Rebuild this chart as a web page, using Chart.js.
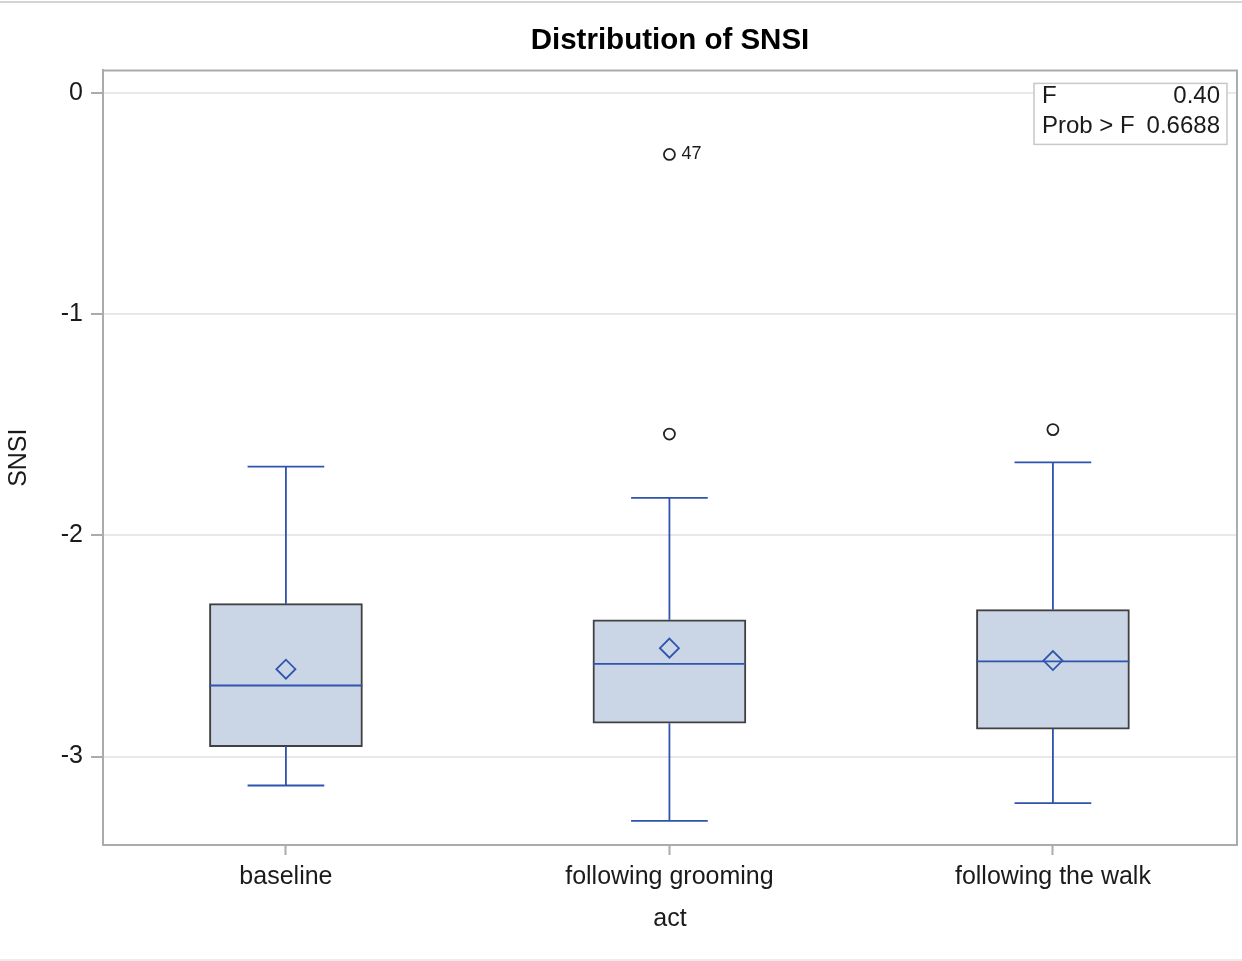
<!DOCTYPE html>
<html><head><meta charset="utf-8">
<script src="https://cdn.jsdelivr.net/npm/chart.js@4.4.1/dist/chart.umd.min.js"></script>
<style>html,body{margin:0;padding:0;background:#fff;}#wrap{width:1242px;height:961px;}</style>
</head><body><div id="wrap"><canvas id="c" width="1242" height="961"></canvas></div>
<script>
const categories = ['baseline', 'following grooming', 'following the walk'];
const whiskerLow = [-3.131, -3.291, -3.211];
const q1 = [-2.955, -2.849, -2.876];
const median = [-2.679, -2.581, -2.570];
const q3 = [-2.309, -2.382, -2.336];
const whiskerHigh = [-1.689, -1.831, -1.670];
const means = [-2.605, -2.510, -2.566];
const outlierGroup = [1, 1, 2];
const outlierValue = [-0.278, -1.542, -1.522];
const outlierLabel = ['47', '', ''];
const yTicks = [0, -1, -2, -3];
const statLabels = ['F', 'Prob > F'];
const statValues = ['0.40', '0.6688'];

const FONT = "'Liberation Sans', Arial, sans-serif";
const BLUE = '#2f54ad';
const BOX_HALF = 0.1995, CAP_HALF = 0.1;

const whiskerData = [];
categories.forEach((c, i) => {
  whiskerData.push(
    {x: i, y: q3[i]}, {x: i, y: whiskerHigh[i]}, {x: i, y: null},
    {x: i - CAP_HALF, y: whiskerHigh[i]}, {x: i + CAP_HALF, y: whiskerHigh[i]}, {x: i, y: null},
    {x: i, y: q1[i]}, {x: i, y: whiskerLow[i]}, {x: i, y: null},
    {x: i - CAP_HALF, y: whiskerLow[i]}, {x: i + CAP_HALF, y: whiskerLow[i]}, {x: i, y: null}
  );
});
const medianData = [];
categories.forEach((c, i) => {
  medianData.push({x: i - BOX_HALF, y: median[i]}, {x: i + BOX_HALF, y: median[i]}, {x: i, y: null});
});

const framePlugin = {
  id: 'frame',
  beforeDraw(chart) {
    const ctx = chart.ctx;
    ctx.save();
    ctx.fillStyle = '#d4d4d4';
    ctx.fillRect(0, 1, chart.width, 2);
    ctx.fillStyle = '#ececec';
    ctx.fillRect(0, chart.height - 2, chart.width, 2);
    ctx.restore();
  },
  afterDraw(chart) {
    const ctx = chart.ctx, a = chart.chartArea;
    ctx.save();
    ctx.strokeStyle = '#a9abae';
    ctx.lineWidth = 2;
    ctx.beginPath();
    ctx.moveTo(a.left, a.top); ctx.lineTo(a.right, a.top); ctx.lineTo(a.right, a.bottom);
    ctx.stroke();
    // outlier labels
    const meta = chart.getDatasetMeta(4);
    ctx.fillStyle = '#1a1a1a';
    ctx.font = '18px ' + FONT;
    ctx.textBaseline = 'middle';
    ctx.textAlign = 'left';
    meta.data.forEach((pt, k) => {
      if (outlierLabel[k]) ctx.fillText(outlierLabel[k], pt.x + 12, pt.y);
    });
    // stats inset
    const bw = 193, bh = 61;
    const bx = a.right - 10 - bw, by = a.top + 13;
    ctx.fillStyle = '#ffffff';
    ctx.fillRect(bx, by, bw, bh);
    ctx.strokeStyle = '#c8c8c8';
    ctx.lineWidth = 1.5;
    ctx.strokeRect(bx, by, bw, bh);
    ctx.fillStyle = '#1a1a1a';
    ctx.font = '24px ' + FONT;
    statLabels.forEach((lab, r) => {
      const yy = by + 13 + r * 30;
      ctx.textAlign = 'left';
      ctx.fillText(lab, bx + 8, yy);
      ctx.textAlign = 'right';
      ctx.fillText(statValues[r], bx + bw - 7, yy);
    });
    ctx.restore();
  }
};

new Chart(document.getElementById('c'), {
  type: 'bar',
  data: {
    datasets: [
      {
        type: 'bar', label: 'box', order: 3,
        data: categories.map((c, i) => ({x: i, y: [q1[i], q3[i]]})),
        backgroundColor: '#cad5e6', borderColor: '#404040', borderWidth: 2,
        borderSkipped: false, barThickness: 153
      },
      {
        type: 'line', label: 'whiskers', order: 2,
        data: whiskerData, borderColor: BLUE, borderWidth: 1.8,
        pointRadius: 0, spanGaps: false, tension: 0
      },
      {
        type: 'line', label: 'median', order: 1,
        data: medianData, borderColor: BLUE, borderWidth: 1.8,
        pointRadius: 0, spanGaps: false, tension: 0
      },
      {
        type: 'line', label: 'mean', order: 0, showLine: false,
        data: categories.map((c, i) => ({x: i, y: means[i]})),
        pointStyle: 'rectRot', pointRadius: 9.5, pointBorderWidth: 1.8,
        pointBorderColor: BLUE, pointBackgroundColor: 'rgba(0,0,0,0)'
      },
      {
        type: 'line', label: 'outliers', order: 0, showLine: false,
        data: outlierGroup.map((g, k) => ({x: g, y: outlierValue[k]})),
        pointStyle: 'circle', pointRadius: 5.5, pointBorderWidth: 1.8,
        pointBorderColor: '#222222', pointBackgroundColor: '#ffffff'
      }
    ]
  },
  options: {
    responsive: false,
    animation: false,
    devicePixelRatio: 1,
    layout: {autoPadding: false, padding: {left: 0, right: 5, top: 0, bottom: 0}},
    plugins: {
      legend: {display: false},
      tooltip: {enabled: false},
      title: {
        display: true, fullSize: false, text: 'Distribution of SNSI', color: '#000',
        font: {family: FONT, size: 29.5, weight: 'bold'},
        padding: {top: 23, bottom: 12}
      }
    },
    scales: {
      x: {
        type: 'linear', min: -0.477, max: 2.48, offset: false,
        afterBuildTicks: (s) => { s.ticks = categories.map((c, i) => ({value: i})); },
        afterFit: (s) => { s.height = 116; s.paddingLeft = 0; s.paddingRight = 0; },
        ticks: {
          callback: (v) => categories[v], color: '#1a1a1a', padding: 7,
          font: {family: FONT, size: 25}, maxRotation: 0, autoSkip: false
        },
        grid: {offset: false, drawOnChartArea: false, drawTicks: true, tickLength: 10, tickColor: '#a9abae', tickWidth: 2},
        border: {display: true, color: '#a9abae', width: 2},
        title: {display: true, text: 'act', color: '#1a1a1a', font: {family: FONT, size: 25}, padding: {top: 0, bottom: 27}}
      },
      y: {
        type: 'linear', min: -3.4, max: 0.102,
        afterBuildTicks: (s) => { s.ticks = yTicks.map(v => ({value: v})); },
        afterFit: (s) => { s.width = 103; s.paddingTop = 0; s.paddingBottom = 0; },
        ticks: {callback: (v) => String(v), color: '#1a1a1a', padding: 8, font: {family: FONT, size: 25}},
        grid: {color: '#e8e8e8', lineWidth: 2, drawTicks: true, tickLength: 12, tickColor: '#a9abae', tickWidth: 2},
        border: {display: true, color: '#a9abae', width: 2},
        title: {display: true, text: 'SNSI', color: '#1a1a1a', font: {family: FONT, size: 25}, padding: {top: 4, bottom: 0}}
      }
    }
  },
  plugins: [framePlugin]
});
</script></body></html>
